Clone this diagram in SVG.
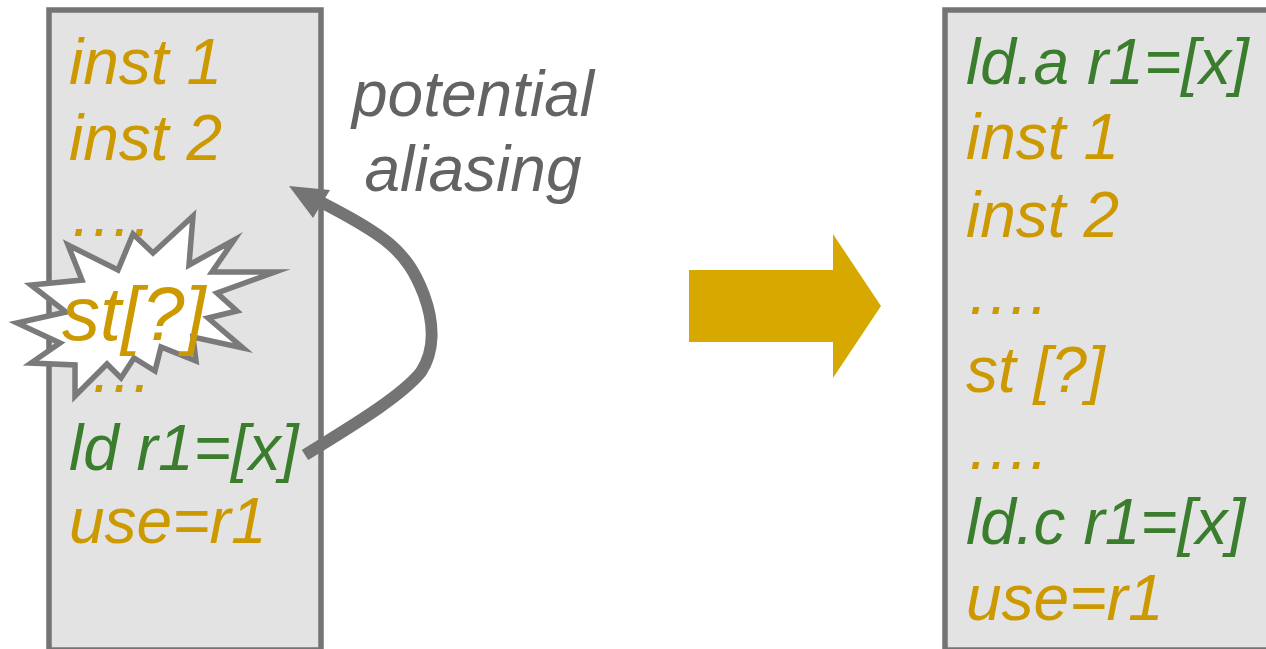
<svg xmlns="http://www.w3.org/2000/svg" width="1266" height="649" viewBox="0 0 1266 649">
<style>
.box{fill:#e3e3e3;stroke:#747474;stroke-width:5.5}
text{font-family:"Liberation Sans",Arial,sans-serif;font-style:italic;font-size:64px}
.y{fill:#cc9900}
.g{fill:#3a7d2c}
.n{fill:#636363}
</style>
<g id="left-box"><rect class="box" x="49" y="10" width="272" height="640"/>
<text class="y" x="69" y="84">inst 1</text>
<text class="y" x="69" y="160">inst 2</text>
<text class="y" x="69" y="236">….</text>
<text class="y" x="69" y="392">….</text>
<text class="g" x="69" y="470">ld r1=[x]</text>
<text class="y" x="69" y="543">use=r1</text></g>
<g id="burst"><polygon points="17,323 66,312 31,285 82,280 68,245 118,270 133,234 153,253 193,216 189,265 234,240 212,272 275,272 217,293 237,311 208,318 243,348 193,337 196,361 161,347 155,371 134,358 121,378 107,364 75,396 75,365 31,363 60,343" fill="#fff" stroke="#7a7a7a" stroke-width="5.5" stroke-miterlimit="20"/>
<text class="y" x="62" y="340" style="font-size:76px">st[?]</text></g>
<g id="right-box"><rect class="box" x="945" y="10" width="330" height="640"/>
<text class="g" x="966" y="84">ld.a r1=[x]</text>
<text class="y" x="966" y="159">inst 1</text>
<text class="y" x="966" y="237">inst 2</text>
<text class="y" x="966" y="314">….</text>
<text class="y" x="966" y="392">st [?]</text>
<text class="y" x="966" y="469">….</text>
<text class="g" x="966" y="544">ld.c r1=[x]</text>
<text class="y" x="966" y="620">use=r1</text></g>
<g id="label"><text class="n" x="473" y="116" text-anchor="middle">potential</text>
<text class="n" x="473" y="191" text-anchor="middle">aliasing</text></g>
<g id="connectors"><path d="M305 455C345 430 400 398 421 372C434 352 435 325 424 295C407 250 385 235 315 199" fill="none" stroke="#747474" stroke-width="12"/>
<polygon points="289,186 330,190 313,218" fill="#747474"/>
<polygon points="689,270 833,270 833,234 881,306 833,378 833,342 689,342" fill="#d6a800"/></g>
</svg>
